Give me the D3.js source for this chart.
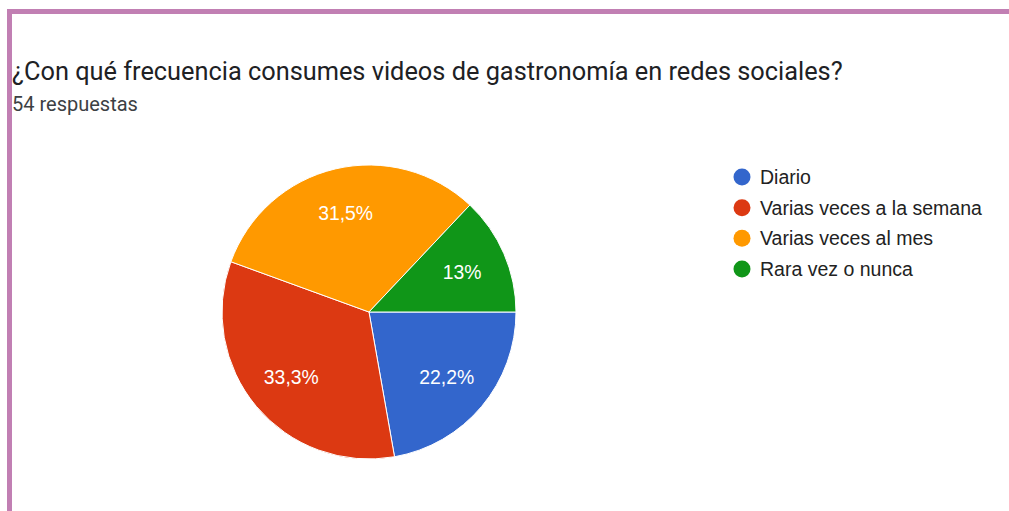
<!DOCTYPE html>
<html>
<head>
<meta charset="utf-8">
<script src="https://cdn.jsdelivr.net/npm/d3@7"></script>
<style>
	html, body { margin: 0; padding: 0; background: #fff; }
</style>
</head>
<body>
<div id="chart"></div>
<script>
'use strict';

var categories = ["Diario", "Varias veces a la semana", "Varias veces al mes", "Rara vez o nunca"];
var counts = [12, 18, 17, 7];
var labels = ["22,2%", "33,3%", "31,5%", "13%"];
var colors = ["#3366cc", "#dc3912", "#ff9900", "#109618"];

var titleText = "¿Con qué frecuencia consumes videos de gastronomía en redes sociales?";
var subtitleText = "54 respuestas";

var width = 1009;
var height = 511;

var svg = d3.select("#chart").append("svg")
	.attr("width", width)
	.attr("height", height)
	.attr("font-family", "Roboto, Arial, sans-serif");

svg.append("rect")
	.attr("width", width).attr("height", height)
	.attr("fill", "#fff");

// purple frame (only top and left edges show)
svg.append("rect")
	.attr("x", 9.5).attr("y", 11.5)
	.attr("width", width + 20).attr("height", height + 20)
	.attr("fill", "none")
	.attr("stroke", "#c17fb3")
	.attr("stroke-width", 5);

// scale a text's font size so it spans the wanted width
function fitWidth(sel, baseSize, wanted) {
	sel.attr("font-size", baseSize);
	var w = sel.node().getComputedTextLength();
	sel.attr("font-size", baseSize * wanted / w);
}

var title = svg.append("text")
	.attr("x", 12).attr("y", 80)
	.attr("fill", "#202124")
	.text(titleText);
fitWidth(title, 22, 831);

var subtitle = svg.append("text")
	.attr("x", 12).attr("y", 111)
	.attr("fill", "#3c4043")
	.text(subtitleText);
fitWidth(subtitle, 15, 126);

// pie
var cx = 369, cy = 312, radius = 147;

var pie = d3.pie()
	.sort(null)
	.startAngle(Math.PI / 2)
	.endAngle(Math.PI / 2 + 2 * Math.PI);

var arc = d3.arc().innerRadius(0).outerRadius(radius);
var labelArc = d3.arc().innerRadius(radius * 0.69).outerRadius(radius * 0.69);

var g = svg.append("g").attr("transform", "translate(" + cx + "," + cy + ")");
var slices = pie(counts);

g.selectAll("path.slice").data(slices)
	.enter().append("path")
	.attr("class", "slice")
	.attr("d", arc)
	.attr("fill", function(d, i) { return colors[i]; })
	.attr("stroke", "#fff")
	.attr("stroke-width", 1);

var pct = g.selectAll("text.pct").data(slices)
	.enter().append("text")
	.attr("class", "pct")
	.attr("transform", function(d) { return "translate(" + labelArc.centroid(d) + ")"; })
	.attr("text-anchor", "middle")
	.attr("dy", "0.36em")
	.attr("font-family", "Arial, 'Liberation Sans', sans-serif")
	.attr("fill", "#fff")
	.text(function(d, i) { return labels[i]; });
fitWidth(pct.filter(function(d, i) { return i === 0; }), 16, 55);
pct.attr("font-size", pct.filter(function(d, i) { return i === 0; }).attr("font-size"));

// legend
var legendY = d3.scalePoint().domain(categories).range([177, 269]);

var items = svg.append("g").selectAll("g").data(categories)
	.enter().append("g")
	.attr("transform", function(d) { return "translate(742," + legendY(d) + ")"; });

items.append("circle")
	.attr("r", 8.5)
	.attr("fill", function(d, i) { return colors[i]; });

var legText = items.append("text")
	.attr("x", 18)
	.attr("dy", "0.36em")
	.attr("font-family", "Arial, 'Liberation Sans', sans-serif")
	.attr("fill", "#222")
	.text(function(d) { return d; });
fitWidth(legText.filter(function(d, i) { return i === 1; }), 16, 222);
legText.attr("font-size", legText.filter(function(d, i) { return i === 1; }).attr("font-size"));
</script>
</body>
</html>
